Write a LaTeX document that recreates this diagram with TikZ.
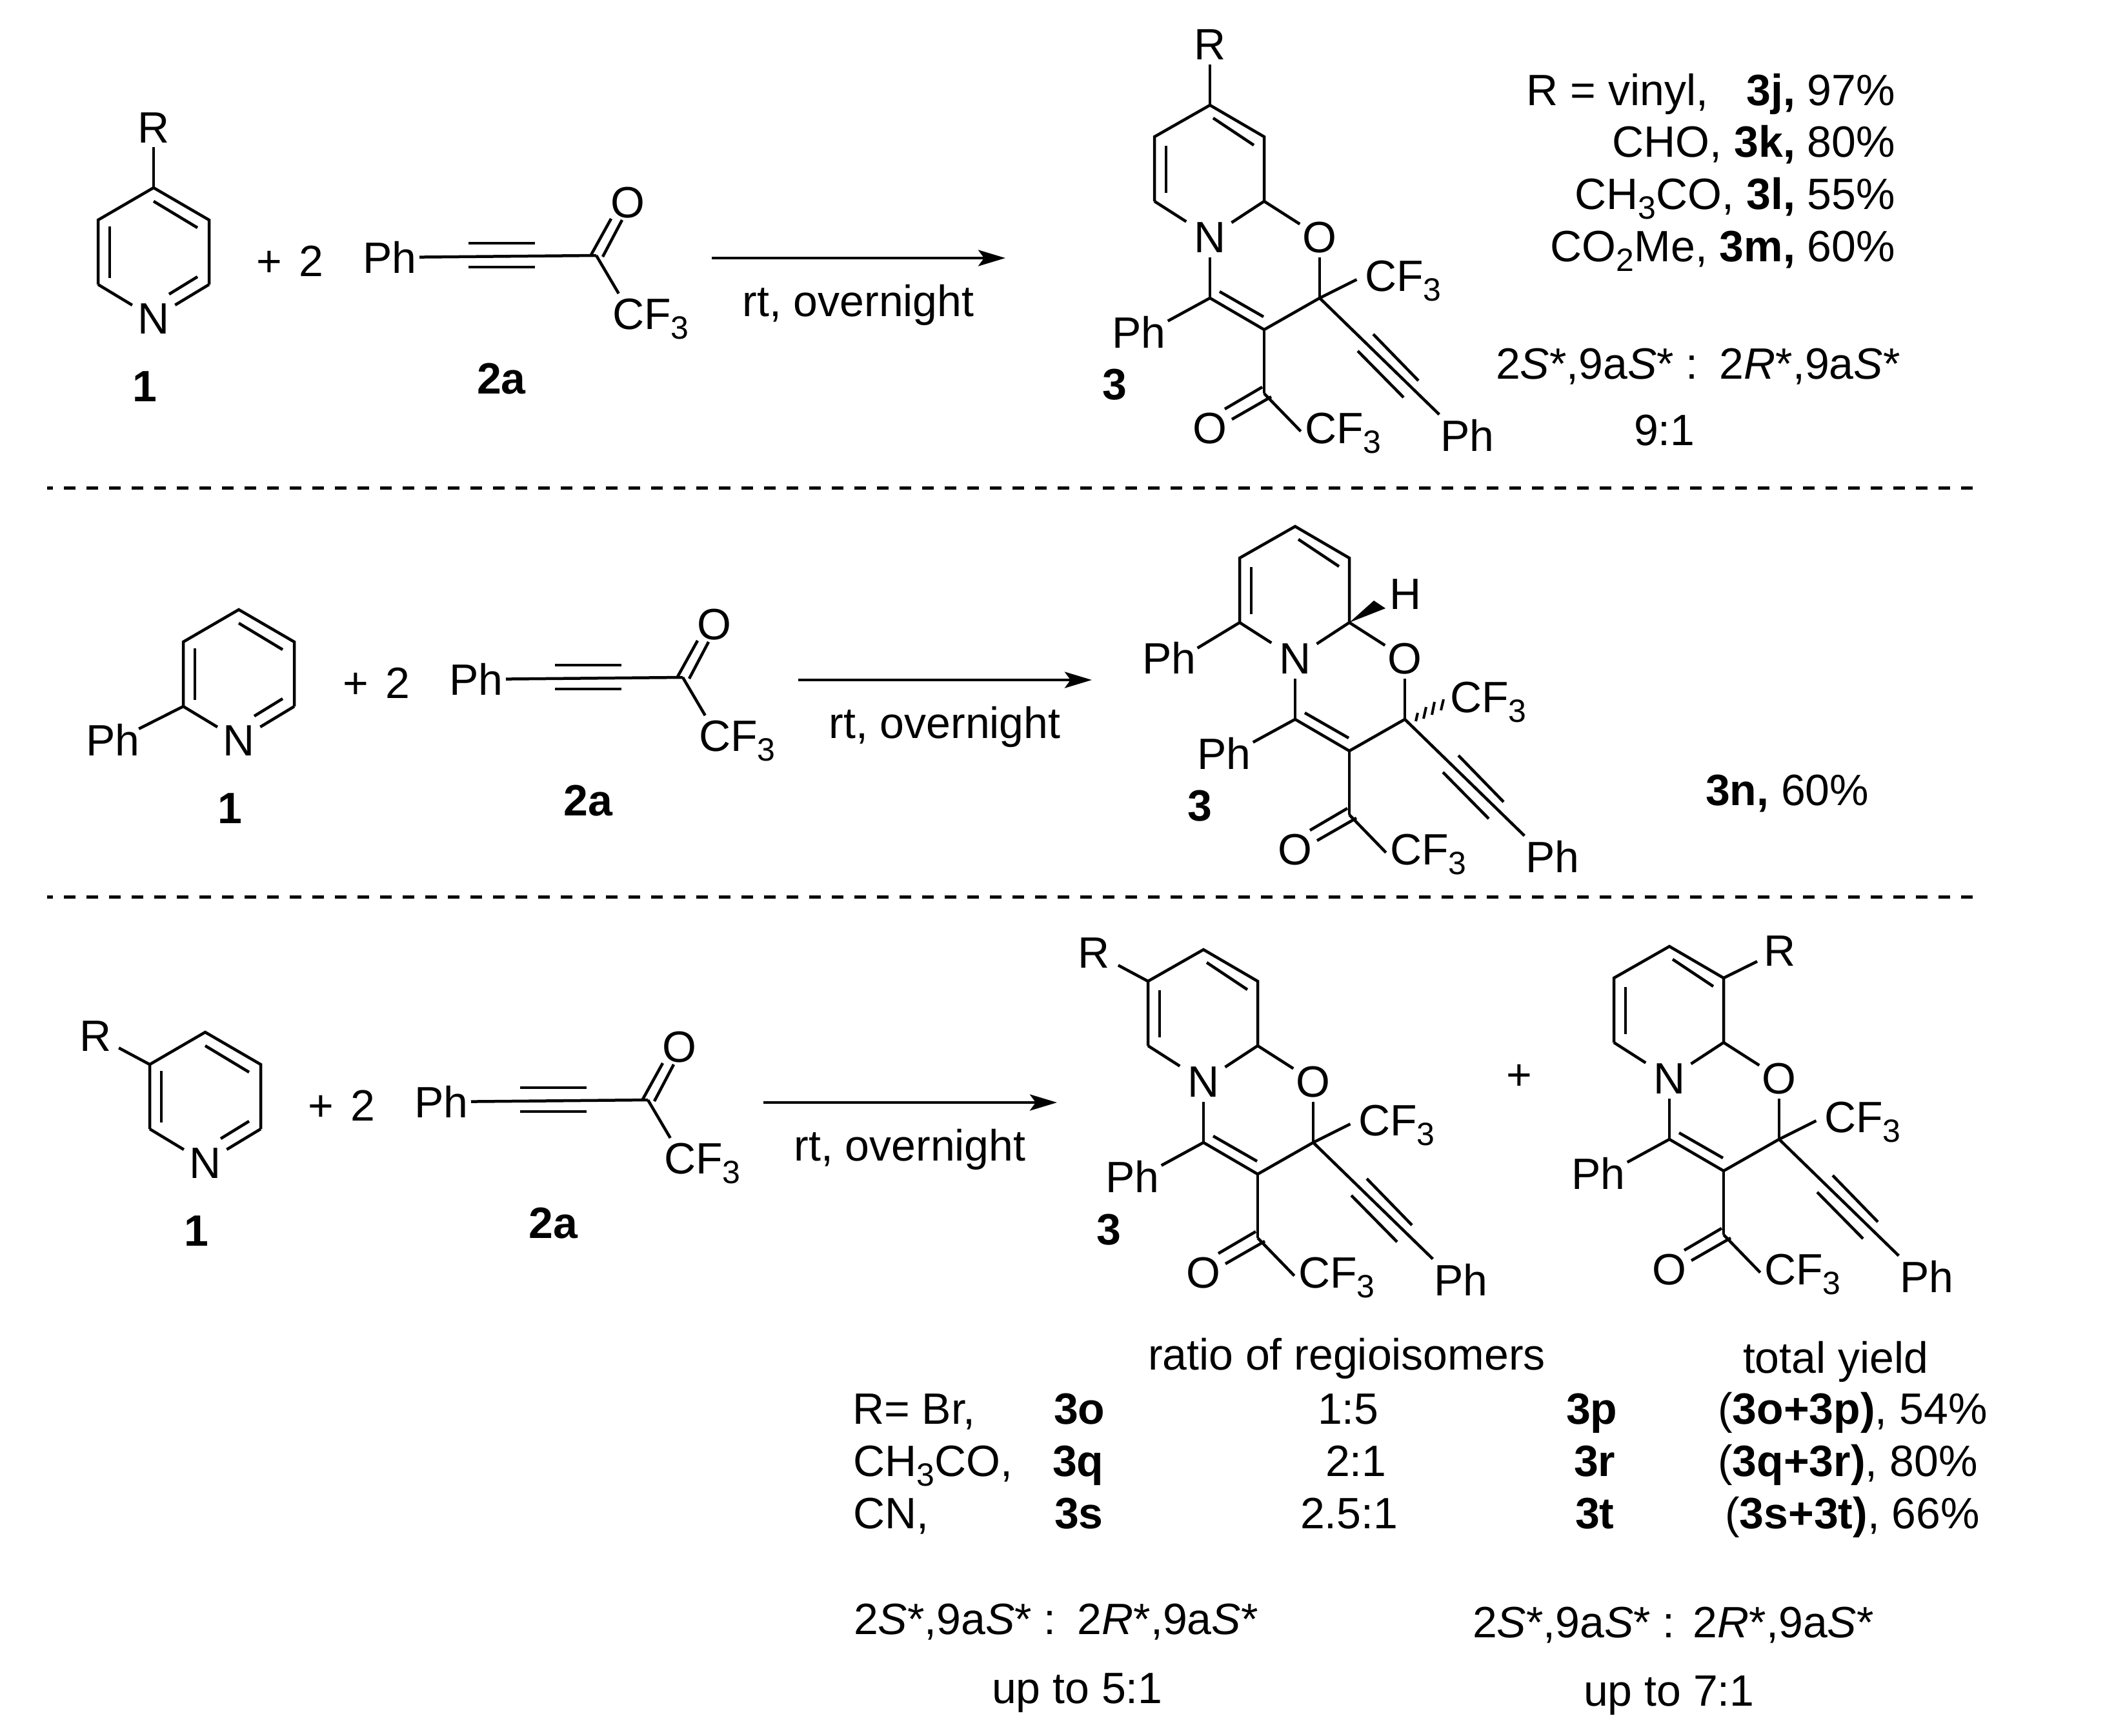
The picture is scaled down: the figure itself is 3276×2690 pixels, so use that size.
\documentclass[tikz,border=0pt]{standalone}
\usepackage{fontspec}
\setmainfont{Liberation Sans}
\usetikzlibrary{calc,arrows.meta}
\newcommand{\subd}[1]{\raisebox{-15pt}{\fontsize{50}{50}\selectfont #1}}
\newcommand{\stereoA}{2\textit{S}*,9a\textit{S}*}
\newcommand{\stereoB}{2\textit{R}*,9a\textit{S}*}
\tikzset{
  bond/.style={line width=4.5pt,line join=miter,line cap=butt},
  lab/.style={inner sep=0pt,outer sep=0pt,text height=48pt,text depth=0pt,font=\fontsize{68}{72}\selectfont},
  txt/.style={lab,anchor=base west},
  txe/.style={lab,anchor=base east},
  txc/.style={lab,anchor=base},
  rxn/.style={line width=4.5pt,-{Stealth[length=42pt,width=25pt,inset=9pt]}},
  sep/.style={line width=5pt,dash pattern=on 18pt off 17pt,dash phase=9pt}
}
% pyridine ring of a reactant
\newcommand{\pyr}[3]{%
\begin{scope}[shift={(#2,#3)}]
  \coordinate (#1T) at (370,945);
  \coordinate (#1UL) at (284,995);
  \coordinate (#1LL) at (284,1095);
  \coordinate (#1UR) at (456,995);
  \coordinate (#1LR) at (456,1095);
  \node[lab] (#1N) at (370,1147) {N};
  \node[lab] (#1L) at (356,1252) {\bfseries 1};
  \draw[bond] (#1LL) -- (#1UL) -- (#1T) -- (#1UR) -- (#1LR);
  \draw[bond,shorten >=38.7pt] (#1LL) -- (#1N.center);
  \draw[bond,shorten >=39pt] (#1LR) -- (#1N.center);
  \draw[bond] ($(#1T)+(0,21)$) -- ($(#1UR)+(-18,12)$);
  \draw[bond] ($(#1UL)+(18,10)$) -- ($(#1LL)+(18,-10)$);
  \draw[bond] ($(#1LR)+(-18,-12)$) -- ($(#1N)+(24,-37)$);
\end{scope}}
% plus sign, ynone, arrow and its label
\newcommand{\reag}[3]{%
\begin{scope}[shift={(#2,#3)}]
  \node[txt] (#1plus) at (397,428) {+\hspace{8pt} 2};
  \node[lab] (#1Ph) at (604,399) {Ph};
  \coordinate (#1Cb) at (924,396);
  \node[lab] (#1O) at (973,313) {O};
  \node[lab,anchor=west] (#1CF) at (949,486) {CF\subd{3}};
  \node[lab] (#1Lb) at (777,586) {\bfseries 2a};
  \draw[bond,shorten <=46pt] (#1Ph.center) -- (#1Cb);
  \draw[bond] ($(#1Ph)+(122,-22)$) -- ($(#1Ph)+(225,-22)$);
  \draw[bond] ($(#1Ph)+(122,15)$) -- ($(#1Ph)+(225,15)$);
  \draw[bond] ($(#1Cb)+(-8,-1)$) -- ($(#1O)+(-26,26)$);
  \draw[bond] ($(#1Cb)+(10,2)$) -- ($(#1O)+(-9,28)$);
  \draw[bond,shorten >=36pt] (#1Cb) -- ([xshift=28pt]#1CF.west);
  \coordinate (#1As) at (1103,400);
  \coordinate (#1Ae) at (1558,400);
  \draw[rxn] (#1As) -- (#1Ae);
  \node[txc] (#1cond) at (1330,490) {rt, overnight};
\end{scope}}
% bicyclic product skeleton
\newcommand{\bicyc}[3]{%
\begin{scope}[shift={(#2,#3)}]
  \coordinate (#1T) at (1875,163);
  \coordinate (#1UL) at (1789,212);
  \coordinate (#1LL) at (1789,312);
  \coordinate (#1Ja) at (1959,312);
  \coordinate (#1UR) at (1959,212);
  \coordinate (#1C2) at (2045,462);
  \coordinate (#1C3) at (1959,511);
  \coordinate (#1C4) at (1875,462);
  \coordinate (#1CO) at (1959,610);
  \node[lab] (#1N) at (1875,367) {N};
  \node[lab] (#1O) at (2045,367) {O};
  \node[lab] (#1Oc) at (1875,663) {O};
  \node[lab,anchor=west] (#1Fa) at (2115,427) {CF\subd{3}};
  \node[lab,anchor=west] (#1Fb) at (2022,663) {CF\subd{3}};
  \node[lab] (#1Pa) at (1765,515) {Ph};
  \node[lab] (#1Pb) at (2274,675) {Ph};
  \draw[bond] (#1LL) -- (#1UL) -- (#1T) -- (#1UR) -- (#1Ja);
  \draw[bond,shorten >=43.6pt] (#1LL) -- (#1N.center);
  \draw[bond,shorten >=40pt] (#1Ja) -- (#1N.center);
  \draw[bond,shorten >=36.5pt] (#1Ja) -- (#1O.center);
  \draw[bond,shorten >=32pt] (#1C4) -- (#1N.center);
  \draw[bond,shorten >=32pt] (#1C2) -- (#1O.center);
  \draw[bond] (#1C4) -- (#1C3) -- (#1C2);
  \draw[bond] (#1C3) -- (#1CO);
  \draw[bond] ($(#1UL)+(18,14)$) -- ($(#1LL)+(18,-13)$);
  \draw[bond] ($(#1T)+(5,20)$) -- ($(#1UR)+(-16,13)$);
  \draw[bond] ($(#1C4)+(15,-10)$) -- ($(#1C3)+(-1,-20)$);
  \draw[bond] ($(#1CO)+(-3,-10)$) -- ($(#1Oc)+(23,-29)$);
  \draw[bond] ($(#1CO)+(11,5)$) -- ($(#1Oc)+(34,-13)$);
  \draw[bond,shorten >=9pt] (#1CO) -- ([yshift=-12pt]#1Fb.west);
  \draw[bond,shorten >=51pt] (#1C4) -- ([yshift=-7pt]#1Pa.center);
  \draw[bond,shorten >=61pt] (#1C2) -- ([yshift=-10pt]#1Pb.center);
  \draw[bond] ($(#1C2)+(83,56)$) -- ($(#1C2)+(153,128)$);
  \draw[bond] ($(#1C2)+(59,82)$) -- ($(#1C2)+(130,154)$);
\end{scope}}
\begin{document}
\begin{tikzpicture}[x=1pt,y=-1pt]
\useasboundingbox (0,0) rectangle (3276,2690);

% ---- row 1
\pyr{ra}{-132}{-654}
\node[lab] (raR) at (238,197) {R};
\draw[bond,shorten <=31pt] (raR.center) -- (raT);
\reag{ga}{0}{0}
\bicyc{pa}{0}{0}
\draw[bond,shorten >=14pt] (paC2) -- (paFa.west);
\node[lab] (paR) at (1875,68) {R};
\draw[bond,shorten <=32pt] (paR.center) -- (paT);
\node[lab] (paL) at (1727,595) {\bfseries 3};
\node[txe] (ya) at (2937,163) {R = vinyl,\hspace{59pt}\textbf{3j,} 97\%};
\node[txe] (yb) at (2937,243) {CHO, \textbf{3k,} 80\%};
\node[txe] (yc) at (2937,324) {CH\subd{3}CO, \textbf{3l,} 55\%};
\node[txe] (yd) at (2937,405) {CO\subd{2}Me, \textbf{3m,} 60\%};
\node[txt] (sa) at (2318,587) {\stereoA\ :\hspace{33pt}\stereoB};
\node[txt] (ra1) at (2532,690) {9:1};
\coordinate (sepAs) at (73,756);
\coordinate (sepAe) at (3061,756);
\draw[sep] (sepAs) -- (sepAe);

% ---- row 2
\pyr{rb}{0}{0}
\node[lab] (rbP) at (175,1147) {Ph};
\draw[bond,shorten <=45pt] ([yshift=-3pt]rbP.center) -- (rbLL);
\reag{gb}{134}{654}
\bicyc{pb}{132}{653}
\node[lab] (pbPc) at (1812,1020) {Ph};
\draw[bond,shorten >=51pt] (pbLL) -- ([yshift=-11pt]pbPc.center);
\node[lab] (pbH) at (2178,920) {H};
\fill ($(pbJa)+(0,0)$) -- ($(pbJa)+(38,-34)$) -- ($(pbJa)+(56,-22)$) -- cycle;
\draw[line width=4pt] ($(pbC2)+(17,3)$) -- ($(pbC2)+(20,-10)$);
\draw[line width=4pt] ($(pbC2)+(29,-1)$) -- ($(pbC2)+(33,-19)$);
\draw[line width=4pt] ($(pbC2)+(42,-7)$) -- ($(pbC2)+(46,-27)$);
\draw[line width=4pt] ($(pbC2)+(56,-14)$) -- ($(pbC2)+(60,-31)$);
\node[lab] (pbL) at (1859,1248) {\bfseries 3};
\node[txt] (yn) at (2643,1248) {\textbf{3n,} 60\%};
\coordinate (sepBs) at (73,1390);
\coordinate (sepBe) at (3061,1390);
\draw[sep] (sepBs) -- (sepBe);

% ---- row 3
\pyr{rc}{-52}{655}
\node[lab] (rcR) at (148,1605) {R};
\draw[bond,shorten <=41pt] (rcR.center) -- (rcUL);
\reag{gc}{80}{1309}
\bicyc{pc}{-10}{1309}
\draw[bond,shorten >=14pt] (pcC2) -- (pcFa.west);
\node[lab] (pcR) at (1695,1476) {R};
\draw[bond,shorten <=43pt] (pcR.center) -- (pcUL);
\node[lab] (pcL) at (1718,1905) {\bfseries 3};
\node[lab] (plus) at (2354,1665) {+};
\bicyc{pd}{712}{1304}
\draw[bond,shorten >=14pt] (pdC2) -- (pdFa.west);
\node[lab] (pdR) at (2758,1473) {R};
\draw[bond,shorten >=39pt] (pdUR) -- (pdR.center);

% ---- table
\node[txt] (hr) at (1779,2123) {ratio of regioisomers};
\node[txt] (hy) at (2701,2128) {total yield};
\node[txt] (t1a) at (1321,2207) {R= Br,};
\node[txt] (t1b) at (1633,2207) {\bfseries 3o};
\node[txt] (t1c) at (2042,2207) {1:5};
\node[txt] (t1d) at (2427,2207) {\bfseries 3p};
\node[txt] (t1e) at (2662,2207) {(\textbf{3o+3p)}, 54\%};
\node[txt] (t2a) at (1322,2288) {CH\subd{3}CO,};
\node[txt] (t2b) at (1631,2288) {\bfseries 3q};
\node[txt] (t2c) at (2054,2288) {2:1};
\node[txt] (t2d) at (2439,2288) {\bfseries 3r};
\node[txt] (t2e) at (2662,2288) {(\textbf{3q+3r)}, 80\%};
\node[txt] (t3a) at (1322,2369) {CN,};
\node[txt] (t3b) at (1634,2369) {\bfseries 3s};
\node[txt] (t3c) at (2015,2369) {2.5:1};
\node[txt] (t3d) at (2441,2369) {\bfseries 3t};
\node[txt] (t3e) at (2673,2369) {(\textbf{3s+3t)}, 66\%};
\node[txt] (sb) at (1323,2533) {\stereoA\ :\hspace{33pt}\stereoB};
\node[txt] (sc) at (2282,2538) {\stereoA\ : \hspace{3pt}\stereoB};
\node[txt] (ub) at (1537,2640) {up to 5:1};
\node[txt] (uc) at (2454,2644) {up to 7:1};
\end{tikzpicture}
\end{document}
